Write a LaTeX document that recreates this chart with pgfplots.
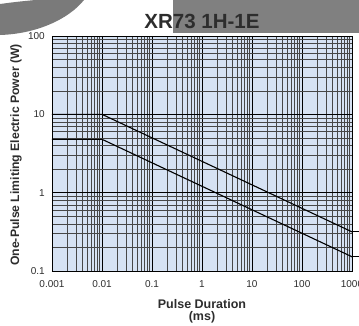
\documentclass[border=0pt]{standalone}
\usepackage{pgfplots}
\pgfplotsset{compat=1.18}
\usepackage{fontspec}
\setmainfont{Liberation Sans}
\definecolor{bgblue}{RGB}{214,226,243}
\definecolor{txt}{RGB}{45,45,45}
\definecolor{boxgray}{RGB}{128,128,128}
\definecolor{arcgray}{RGB}{122,122,122}
\begin{document}
\begin{tikzpicture}
\path[use as bounding box, clip] (0pt,0pt) rectangle (359pt,325pt);
% decorative scan remnants
\fill[boxgray] (173pt,292pt) rectangle (365pt,330pt);
\fill[arcgray] (0pt,290pt) .. controls (35pt,291pt) and (68pt,305pt) .. (84pt,325pt) -- (35pt,325pt) .. controls (15pt,323pt) .. (0pt,321pt) -- cycle;
\node[anchor=base, font=\fontsize{20.5}{24}\selectfont\bfseries, text=txt, inner sep=0pt] at (202pt,296.7pt) {XR73 1H-1E};
\begin{axis}[
  at={(52pt,54pt)}, anchor=south west,
  scale only axis, width=300pt, height=235pt,
  xmode=log, ymode=log,
  xmin=0.001, xmax=1000, ymin=0.1, ymax=100,
  clip=false,
  axis background/.style={fill=bgblue},
  axis line style={black, line width=0.8pt},
  grid=both,
  major grid style={black, line width=0.75pt},
  minor grid style={black!72, line width=0.45pt},
  major tick length=0pt, minor tick length=0pt,
  xtick={0.001,0.01,0.1,1,10,100,1000},
  xticklabels={0.001,0.01,0.1,1,10,100,1000},
  ytick={0.1,1,10,100},
  yticklabels={0.1,1,10,100},
  tick label style={font=\fontsize{10}{12}\selectfont, text=txt, inner sep=0pt},
  xticklabel style={anchor=north, yshift=-9pt},
  yticklabel style={anchor=east, xshift=-7pt},
  xlabel={Pulse Duration\\(ms)},
  xlabel style={at={(axis description cs:0.5,0)}, anchor=north, yshift=-28pt, align=center, inner sep=0pt, font=\fontsize{12.5}{12.5}\selectfont\bfseries, text=txt},
  ylabel={One-Pulse Limiting Electric Power (W)},
  ylabel style={at={(axis description cs:-0.12,0.494)}, anchor=center, inner sep=0pt, font=\fontsize{12.2}{14}\selectfont\bfseries, text=txt},
]
\addplot[black, line width=1.1pt] coordinates {(0.001,10) (0.01,10) (1000,0.316)};
\addplot[black, line width=1.1pt] coordinates {(0.001,4.8) (0.01,4.8) (1000,0.152)};
\addplot[black, line width=0.8pt] coordinates {(1000,0.316) (1600,0.316)};
\addplot[black, line width=0.8pt] coordinates {(1000,0.152) (1600,0.152)};
\end{axis}
\end{tikzpicture}
\end{document}
